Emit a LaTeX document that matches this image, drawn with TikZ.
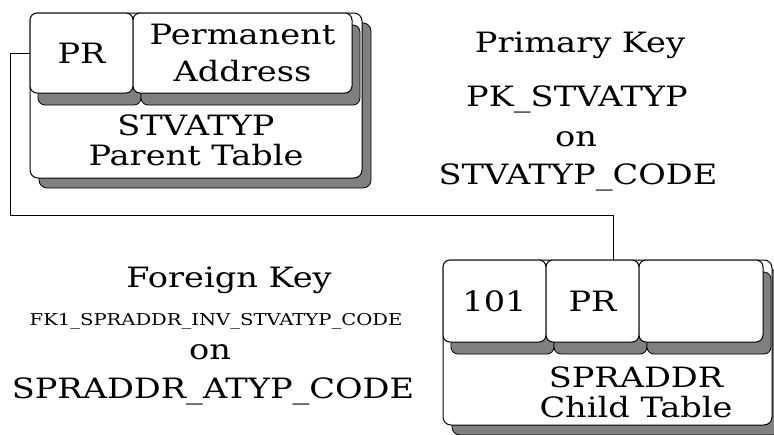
\documentclass[tikz,border=0pt]{standalone}
\usepackage{fontspec}
\setmainfont{DejaVu Serif}[FakeStretch=1.2]
\usetikzlibrary{shadows}

\tikzset{
  tablebox/.style={shape=rectangle, draw=black, fill=white, line width=1pt, rounded corners=8pt, inner sep=0pt,
    drop shadow={shadow xshift=9pt, shadow yshift=-10pt, fill=gray, draw=black, line width=0.8pt, opacity=1}},
  cellbox/.style={shape=rectangle, draw=black, fill=white, line width=1pt, rounded corners=7pt, inner sep=0pt,
    font=\fontsize{28}{37}\selectfont, align=center,
    drop shadow={shadow xshift=8pt, shadow yshift=-12pt, fill=gray, draw=black, line width=0.8pt, opacity=1}},
  bigtext/.style={font=\fontsize{28}{30}\selectfont, align=center, inner sep=0pt},
  smalltext/.style={font=\fontsize{16.3}{18}\selectfont, inner sep=0pt},
  link/.style={draw=black, line width=1pt}
}

\begin{document}
\begin{tikzpicture}[x=1pt,y=-1pt]
\useasboundingbox (0,0) rectangle (774,434);

% parent table
\node[tablebox, minimum width=332pt, minimum height=165pt] (parent) at (196,95.5) {};
\node[cellbox, minimum width=103pt, minimum height=80pt] (pr1) at (81.5,53) {PR};
\node[cellbox, minimum width=219pt, minimum height=80pt] (addr) at (242.5,53) {Permanent\\Address};
\node[bigtext] (ptitle) at (196,140) {STVATYP\\Parent Table};

% child table
\node[tablebox, minimum width=329pt, minimum height=165pt] (child) at (607.5,342.5) {};
\node[cellbox, minimum width=103pt, minimum height=82pt] (c101) at (494.5,301) {101};
\node[cellbox, minimum width=93pt, minimum height=82pt] (pr2) at (592.5,301) {PR};
\node[cellbox, minimum width=124pt, minimum height=82pt] (cnew) at (701,301) {};
\node[bigtext] (ctitle) at (636,392) {SPRADDR\\Child Table};

% key labels
\node[bigtext] (pk) at (580,45) {Primary Key};
\node[bigtext] (pkname) at (577,99) {PK\_STVATYP};
\node[bigtext] (pkon) at (576,139) {on};
\node[bigtext] (pkcol) at (578,177) {STVATYP\_CODE};

\node[bigtext] (fk) at (229,280) {Foreign Key};
\node[smalltext] (fkname) at (216,321) {FK1\_SPRADDR\_INV\_STVATYP\_CODE};
\node[bigtext] (fkon) at (210,352) {on};
\node[bigtext] (fkcol) at (213,391) {SPRADDR\_ATYP\_CODE};

% relation line
\coordinate (drop) at (613,215);
\draw[link] (pr1.west) -- ++(-19,0) |- (drop) -- (drop |- pr2.north);
\end{tikzpicture}
\end{document}
